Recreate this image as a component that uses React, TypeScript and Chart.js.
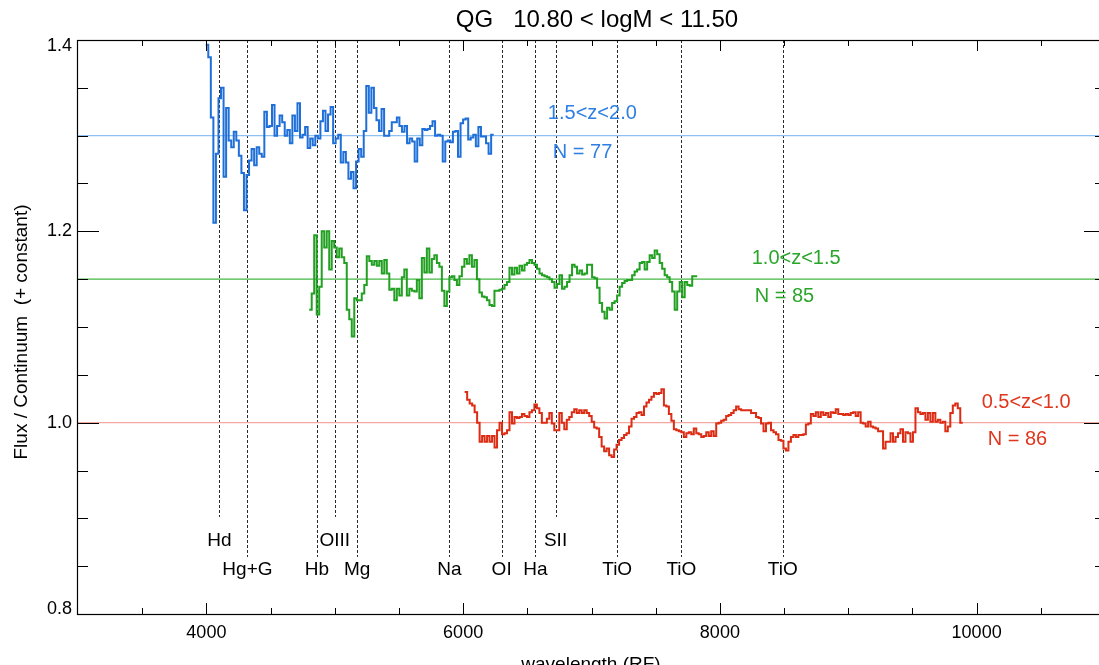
import React, { useEffect, useRef } from "react";
import { Chart, registerables } from "chart.js";

Chart.register(...registerables);

// ---------- text ----------
const titleText = "QG   10.80 < logM < 11.50";
const xAxisTitle = "wavelength (RF)";
const yAxisTitle = "Flux / Continuum  (+ constant)";

// ---------- axes ----------
const xMin = 3000;
const xMax = 11000;
const yMin = 0.8;
const yMax = 1.4;
const xMajorTicks = [4000, 6000, 8000, 10000];
const xMajorLabels = ["4000", "6000", "8000", "10000"];
const xMinorTicks = [3500, 4500, 5000, 5500, 6500, 7000, 7500, 8500, 9000, 9500, 10500];
const yMajorTicks = [0.8, 1.0, 1.2, 1.4];
const yMajorLabels = ["0.8", "1.0", "1.2", "1.4"];
const yMinorTicks = [0.85, 0.9, 0.95, 1.05, 1.1, 1.15, 1.25, 1.3, 1.35];

// ---------- spectral line markers ----------
const lineNames = ["Hd", "Hg+G", "Hb", "OIII", "Mg", "Na", "OI", "Ha", "SII", "TiO", "TiO", "TiO"];
const lineWaves = [4102, 4320, 4861, 5000, 5175, 5893, 6300, 6563, 6720, 7200, 7700, 8490];
const lineRows = [0, 1, 1, 0, 1, 1, 1, 1, 0, 1, 1, 1];

// ---------- series ----------
const seriesNames = ["1.5<z<2.0", "1.0<z<1.5", "0.5<z<1.0"];
const seriesCounts = ["N = 77", "N = 85", "N = 86"];
const seriesLevels = [1.3, 1.15, 1.0];
const seriesStarts = [3995, 4801, 6012];
const seriesBinWidths = [19.85, 19.5, 19.4];

const blueValues = [
  1.395, 1.382, 1.319, 1.209, 1.281, 1.339, 1.350, 1.257, 1.329, 1.295,
  1.288, 1.304, 1.295, 1.279, 1.261, 1.222, 1.259, 1.274, 1.286, 1.269,
  1.288, 1.281, 1.278, 1.325, 1.309, 1.310, 1.332, 1.300, 1.310, 1.321,
  1.314, 1.300, 1.306, 1.292, 1.321, 1.305, 1.334, 1.298, 1.301, 1.309,
  1.287, 1.297, 1.290, 1.300, 1.297, 1.315, 1.326, 1.305, 1.322, 1.330,
  1.292, 1.297, 1.301, 1.272, 1.283, 1.272, 1.255, 1.262, 1.245, 1.273,
  1.286, 1.278, 1.305, 1.352, 1.324, 1.350, 1.329, 1.316, 1.305, 1.328,
  1.300, 1.300, 1.305, 1.314, 1.314, 1.319, 1.310, 1.304, 1.310, 1.292,
  1.297, 1.294, 1.273, 1.297, 1.290, 1.307, 1.306, 1.307, 1.310, 1.315,
  1.300, 1.301, 1.300, 1.273, 1.294, 1.295, 1.293, 1.304, 1.305, 1.278,
  1.313, 1.317, 1.318, 1.296, 1.298, 1.301, 1.289, 1.309, 1.299, 1.299,
  1.292, 1.281, 1.301,
];

const greenValues = [
  1.118, 1.135, 1.196, 1.113, 1.142, 1.200, 1.183, 1.200, 1.160, 1.190,
  1.183, 1.173, 1.182, 1.173, 1.167, 1.118, 1.108, 1.090, 1.130, 1.128,
  1.128, 1.135, 1.144, 1.174, 1.169, 1.165, 1.169, 1.164, 1.169, 1.156,
  1.170, 1.156, 1.139, 1.140, 1.128, 1.140, 1.133, 1.152, 1.160, 1.133,
  1.140, 1.138, 1.137, 1.149, 1.130, 1.172, 1.157, 1.182, 1.157, 1.171,
  1.175, 1.167, 1.163, 1.138, 1.122, 1.137, 1.152, 1.153, 1.149, 1.144,
  1.153, 1.163, 1.171, 1.166, 1.175, 1.163, 1.170, 1.150, 1.136, 1.132,
  1.131, 1.128, 1.123, 1.122, 1.138, 1.138, 1.139, 1.140, 1.144, 1.147,
  1.162, 1.155, 1.162, 1.156, 1.164, 1.159, 1.165, 1.167, 1.170, 1.167,
  1.165, 1.161, 1.156, 1.154, 1.153, 1.152, 1.150, 1.147, 1.141, 1.145,
  1.154, 1.140, 1.142, 1.147, 1.154, 1.165, 1.163, 1.156, 1.159, 1.155,
  1.156, 1.165, 1.165, 1.152, 1.151, 1.141, 1.125, 1.116, 1.109, 1.120,
  1.118, 1.125, 1.127, 1.133, 1.142, 1.146, 1.148, 1.149, 1.149, 1.154,
  1.158, 1.160, 1.167, 1.168, 1.160, 1.168, 1.175, 1.172, 1.180, 1.176,
  1.167, 1.161, 1.154, 1.152, 1.147, 1.137, 1.118, 1.137, 1.147, 1.131,
  1.147, 1.144, 1.143, 1.153, 1.153,
];

const redValues = [
  1.032, 1.024, 1.020, 1.018, 1.011, 1.000, 0.980, 0.986, 0.980, 0.986,
  0.980, 0.986, 0.974, 0.992, 1.000, 0.988, 0.989, 0.992, 1.011, 0.999,
  1.006, 1.005, 1.006, 1.009, 1.007, 1.006, 1.011, 1.013, 1.019, 1.015,
  1.010, 1.000, 1.000, 1.004, 1.010, 0.999, 0.992, 0.992, 1.010, 1.000,
  0.993, 1.003, 1.006, 1.011, 1.014, 1.010, 1.013, 1.010, 1.013, 1.010,
  1.007, 1.001, 0.995, 0.994, 0.985, 0.975, 0.970, 0.973, 0.966, 0.964,
  0.972, 0.977, 0.982, 0.984, 0.987, 0.989, 0.996, 1.004, 1.006, 1.010,
  1.011, 1.008, 1.017, 1.021, 1.024, 1.027, 1.031, 1.030, 1.031, 1.035,
  1.018, 1.017, 1.009, 1.002, 0.993, 0.992, 0.991, 0.990, 0.985, 0.989,
  0.990, 0.988, 0.994, 0.989, 0.988, 0.985, 0.986, 0.990, 0.986, 0.991,
  0.986, 0.999, 1.000, 1.002, 1.003, 1.007, 1.008, 1.010, 1.013, 1.017,
  1.014, 1.013, 1.013, 1.013, 1.013, 1.010, 1.010, 1.006, 1.005, 0.999,
  0.991, 0.999, 1.000, 0.992, 0.990, 0.988, 0.982, 0.981, 0.973, 0.971,
  0.980, 0.985, 0.987, 0.985, 0.987, 0.987, 0.988, 0.998, 0.999, 1.009,
  1.007, 1.011, 1.006, 1.011, 1.008, 1.010, 1.006, 1.011, 1.010, 1.014,
  1.009, 1.009, 1.008, 1.009, 1.008, 1.010, 1.011, 1.007, 1.011, 1.000,
  0.999, 0.996, 1.001, 0.996, 0.995, 0.994, 0.991, 0.991, 0.973, 0.980,
  0.980, 0.989, 0.980, 0.985, 0.989, 0.993, 0.980, 0.990, 0.989, 0.980,
  0.990, 1.015, 1.011, 1.009, 1.010, 1.003, 1.010, 1.001, 1.010, 1.001,
  1.003, 1.000, 1.001, 0.991, 0.996, 1.010, 1.018, 1.020, 1.015, 1.000,
];

const seriesValues = [blueValues, greenValues, redValues];

// ---------- styles ----------
const FONT = '"Liberation Sans", Arial, Helvetica, sans-serif';
const spectrumColors = ["#1f6fd8", "#22a022", "#dc2c14"];
const levelColors = ["#8fc0f2", "#45b845", "#f2a89e"];
const textColors = ["#2f7fe2", "#2aa62a", "#e0361e"];
// annotation anchors (data coords: wavelength, flux) for name and N text
const nameAnchors = [
  [6660, 1.3237],
  [8248, 1.1711],
  [10039, 1.0206],
];
const countAnchors = [
  [6699, 1.2819],
  [8271, 1.1314],
  [10086, 0.9819],
];

const CANVAS_W = 1120;
const CANVAS_H = 665;
const AREA = { left: 78, top: 40, right: 1105, bottom: 614 };

function stepPoints(start: number, width: number, values: number[]) {
  const pts = values.map((v, i) => ({ x: start + i * width, y: v }));
  pts.push({ x: start + values.length * width, y: values[values.length - 1] });
  return pts;
}

const decorPlugin = {
  id: "idlDecor",
  beforeDatasetsDraw(chart: any) {
    const { ctx, scales, chartArea } = chart;
    const x = scales.x;
    const y = scales.y;
    ctx.save();
    ctx.strokeStyle = "#2a2a2a";
    ctx.lineWidth = 1;
    ctx.setLineDash([3, 2]);
    lineWaves.forEach((w, i) => {
      const px = Math.round(x.getPixelForValue(w)) + 0.5;
      const endV = lineRows[i] === 0 ? 0.9014 : 0.8596;
      ctx.beginPath();
      ctx.moveTo(px, chartArea.top);
      ctx.lineTo(px, y.getPixelForValue(endV));
      ctx.stroke();
    });
    ctx.restore();
  },
  afterDraw(chart: any) {
    const { ctx, scales, chartArea } = chart;
    const x = scales.x;
    const y = scales.y;
    const L = chartArea.left;
    const R = chartArea.right;
    const T = chartArea.top;
    const B = chartArea.bottom;
    ctx.save();
    // frame
    ctx.strokeStyle = "#000";
    ctx.lineWidth = 1.2;
    ctx.setLineDash([]);
    ctx.strokeRect(L - 0.5, T + 0.5, R - L, B - T);
    // x ticks
    const xt = (v: number, len: number) => {
      const px = Math.round(x.getPixelForValue(v)) + 0.5;
      ctx.beginPath();
      ctx.moveTo(px, B);
      ctx.lineTo(px, B - len);
      ctx.moveTo(px, T);
      ctx.lineTo(px, T + len);
      ctx.stroke();
    };
    ctx.lineWidth = 1;
    xMajorTicks.forEach((v) => xt(v, 11));
    xMinorTicks.forEach((v) => xt(v, 6));
    const yt = (v: number, len: number) => {
      const py = Math.round(y.getPixelForValue(v)) + 0.5;
      ctx.beginPath();
      ctx.moveTo(L, py);
      ctx.lineTo(L + len, py);
      ctx.moveTo(R, py);
      ctx.lineTo(R - len, py);
      ctx.stroke();
    };
    yMajorTicks.forEach((v) => yt(v, 21));
    yMinorTicks.forEach((v) => yt(v, 10));

    // tick labels
    ctx.fillStyle = "#000";
    ctx.font = `18px ${FONT}`;
    ctx.textAlign = "center";
    ctx.textBaseline = "middle";
    xMajorTicks.forEach((v, i) => {
      ctx.fillText(xMajorLabels[i], x.getPixelForValue(v), 633);
    });
    ctx.textAlign = "right";
    yMajorTicks.forEach((v, i) => {
      let py = y.getPixelForValue(v);
      py = Math.max(T + 6, Math.min(B - 5, py));
      ctx.fillText(yMajorLabels[i], 72, py);
    });

    // title
    ctx.font = `24px ${FONT}`;
    ctx.textAlign = "center";
    ctx.fillText(titleText, 597, 20);

    // axis titles
    ctx.font = `19px ${FONT}`;
    ctx.textBaseline = "alphabetic";
    ctx.fillText(xAxisTitle, 591, 670);
    ctx.save();
    ctx.translate(22, 332);
    ctx.rotate(-Math.PI / 2);
    ctx.textBaseline = "middle";
    ctx.fillText(yAxisTitle, 0, 0);
    ctx.restore();

    // line labels
    ctx.font = `19px ${FONT}`;
    ctx.textAlign = "center";
    ctx.textBaseline = "middle";
    lineNames.forEach((n, i) => {
      const px = x.getPixelForValue(lineWaves[i]);
      const py = y.getPixelForValue(lineRows[i] === 0 ? 0.8763 : 0.846);
      ctx.fillText(n, px, py);
    });

    // series annotations
    ctx.font = `20px ${FONT}`;
    ctx.textAlign = "left";
    seriesNames.forEach((n, i) => {
      ctx.fillStyle = textColors[i];
      ctx.fillText(n, x.getPixelForValue(nameAnchors[i][0]), y.getPixelForValue(nameAnchors[i][1]));
      ctx.fillText(
        seriesCounts[i],
        x.getPixelForValue(countAnchors[i][0]),
        y.getPixelForValue(countAnchors[i][1])
      );
    });
    ctx.restore();
  },
};

export default function App() {
  const ref = useRef<HTMLCanvasElement | null>(null);
  useEffect(() => {
    if (!ref.current) return;
    const spectra = seriesValues.map((vals, i) => ({
      label: seriesNames[i],
      data: stepPoints(seriesStarts[i], seriesBinWidths[i], vals),
      borderColor: spectrumColors[i],
      borderWidth: 2,
      pointRadius: 0,
      stepped: "before" as const,
      fill: false,
    }));
    const levels = seriesLevels.map((lv, i) => ({
      label: "level " + seriesNames[i],
      data: [
        { x: xMin, y: lv },
        { x: xMax, y: lv },
      ],
      borderColor: levelColors[i],
      borderWidth: 1.2,
      pointRadius: 0,
      fill: false,
    }));
    const chart = new Chart(ref.current, {
      type: "line",
      data: { datasets: [...spectra, ...levels] as any },
      options: {
        animation: false,
        responsive: false,
        devicePixelRatio: 1,
        parsing: false as any,
        normalized: true,
        layout: {
          padding: {
            left: AREA.left,
            top: AREA.top,
            right: CANVAS_W - AREA.right,
            bottom: CANVAS_H - AREA.bottom,
          },
        },
        plugins: {
          legend: { display: false },
          tooltip: { enabled: false },
          title: { display: false },
        },
        scales: {
          x: { type: "linear", min: xMin, max: xMax, display: false },
          y: { type: "linear", min: yMin, max: yMax, display: false },
        },
      },
      plugins: [decorPlugin],
    });
    return () => chart.destroy();
  }, []);
  return (
    <div
      style={{
        position: "fixed",
        left: 0,
        top: 0,
        width: "100vw",
        height: "100vh",
        overflow: "hidden",
        background: "#fff",
      }}
    >
      <canvas
        ref={ref}
        width={CANVAS_W}
        height={CANVAS_H}
        style={{ width: CANVAS_W, height: CANVAS_H, display: "block" }}
      />
    </div>
  );
}
